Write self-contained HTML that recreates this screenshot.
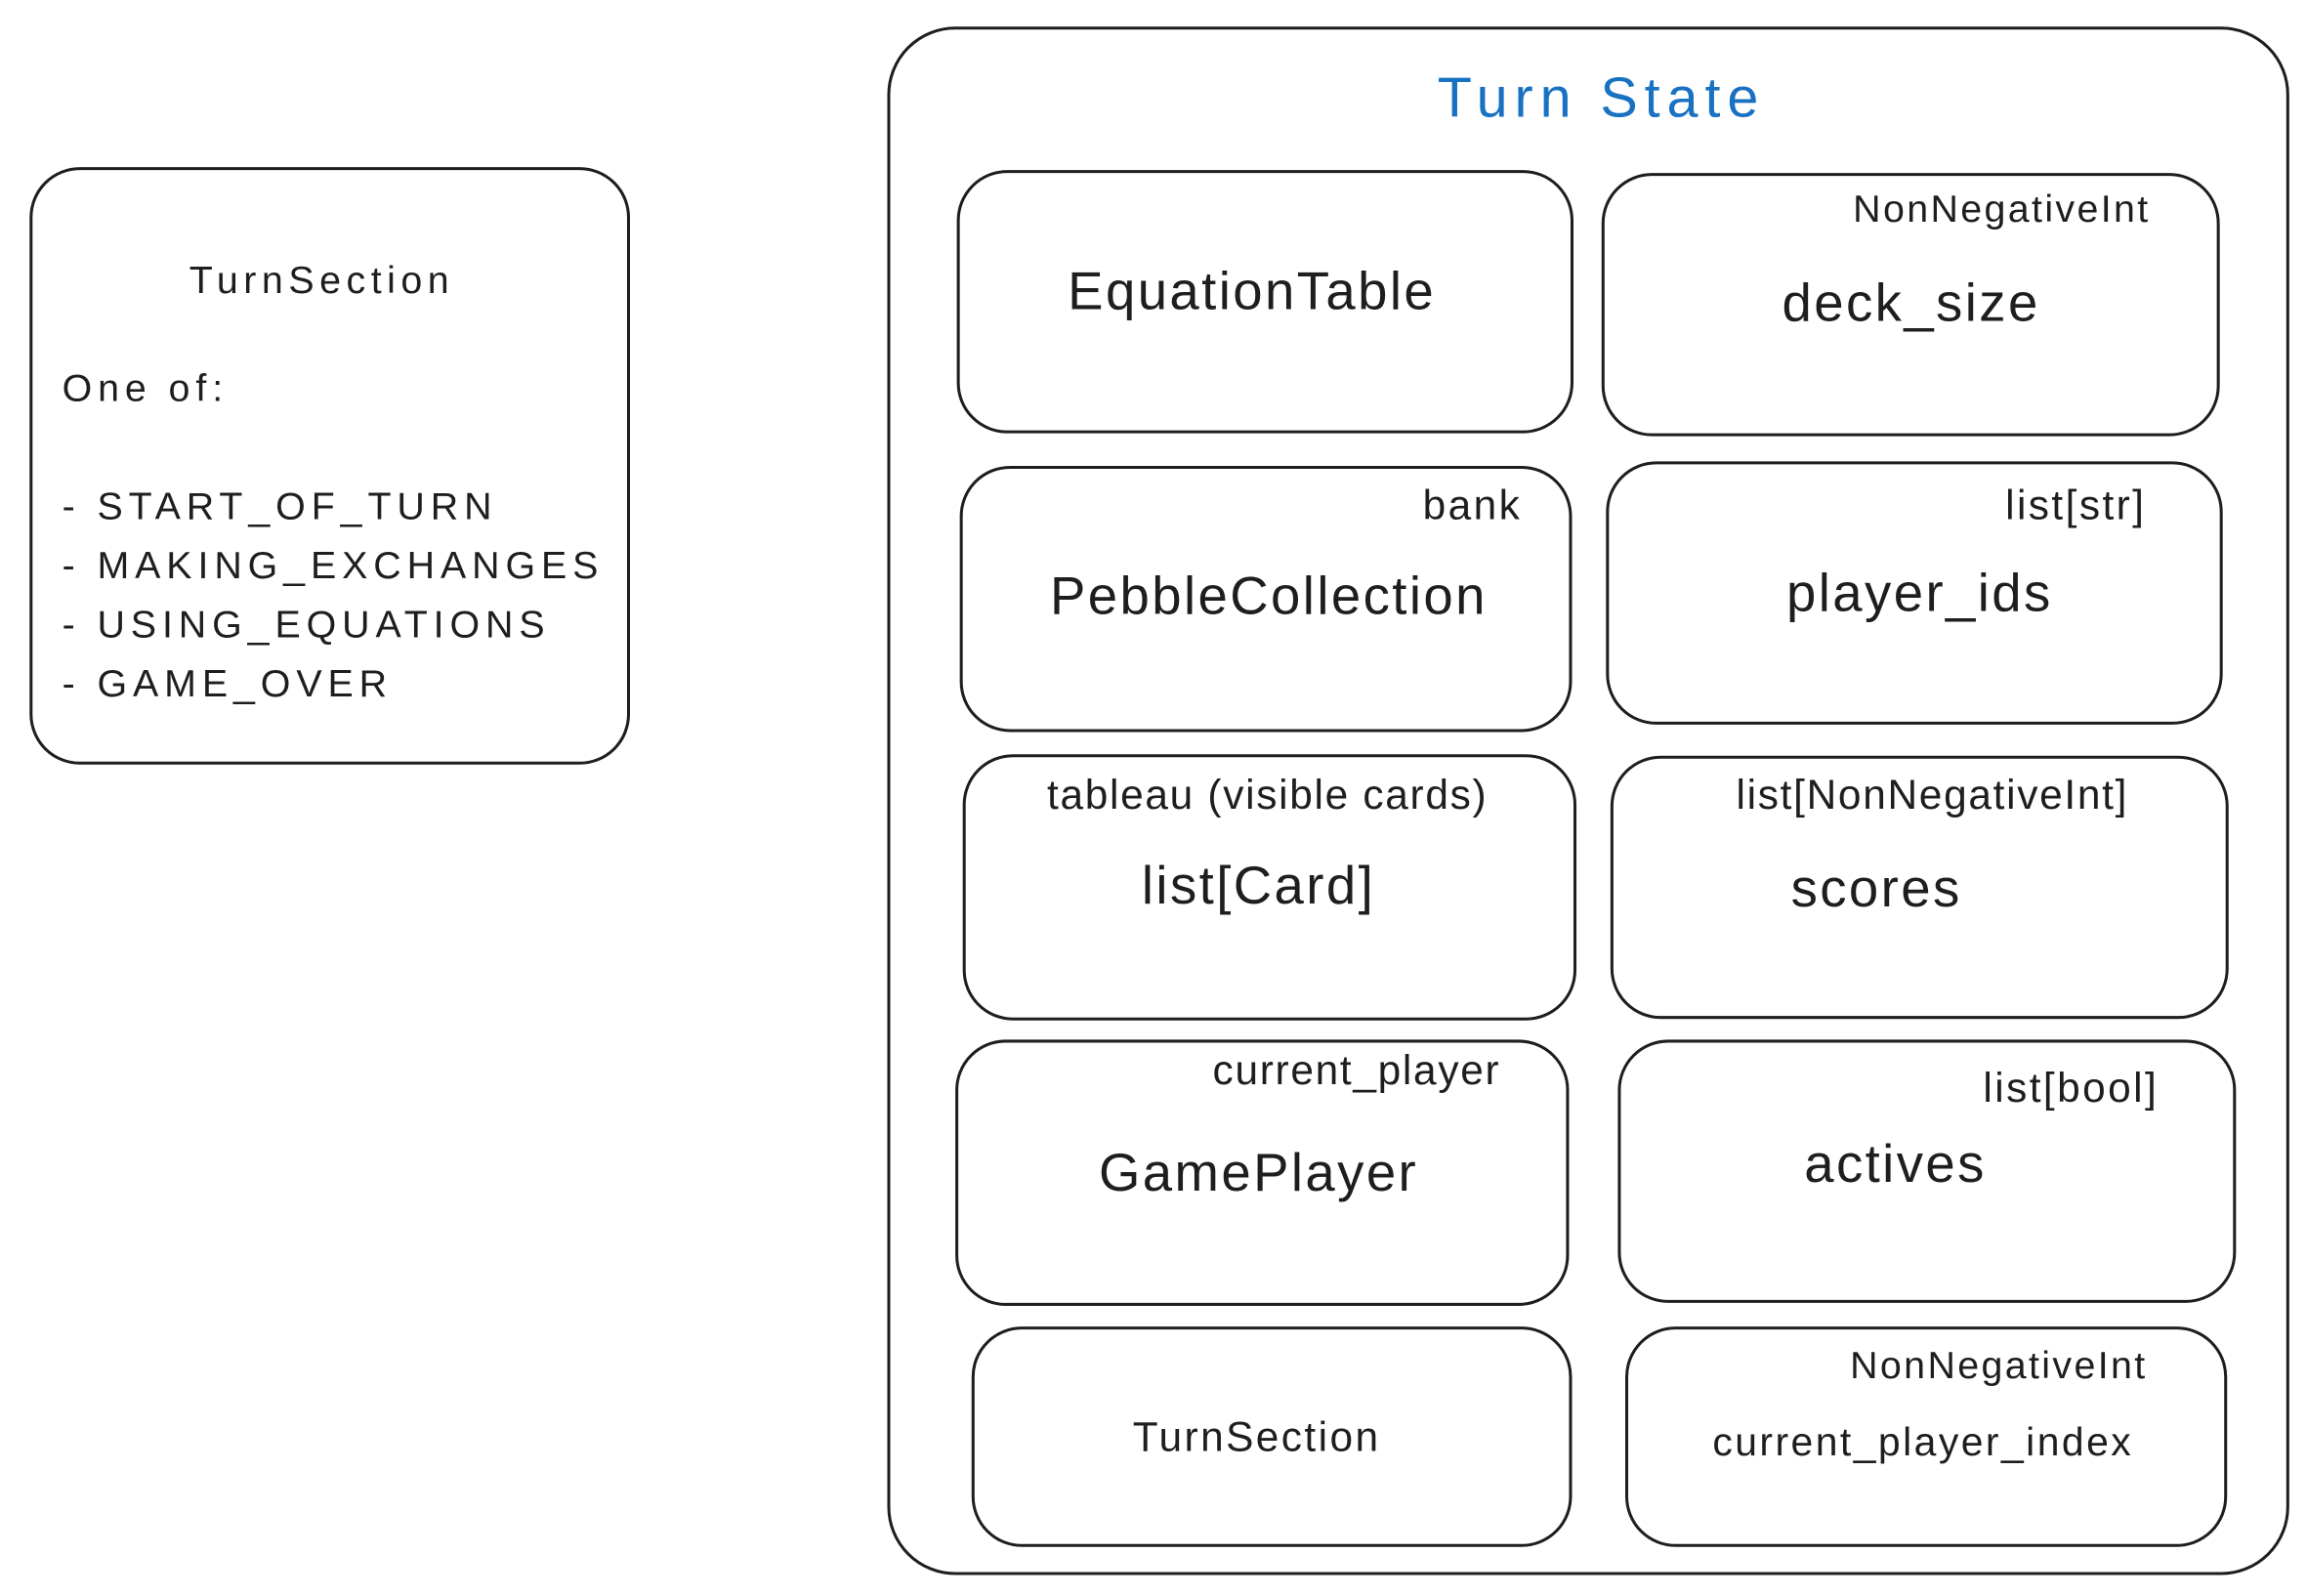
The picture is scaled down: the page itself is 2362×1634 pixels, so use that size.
<!DOCTYPE html>
<html><head><meta charset="utf-8">
<style>
html,body{margin:0;padding:0;background:#fff;}
body{width:2362px;height:1634px;overflow:hidden;position:relative;}
#w{position:absolute;left:0;top:0;width:1560px;height:1079px;transform:scale(1.5141);transform-origin:0 0;font-family:"Liberation Sans",sans-serif;color:#1e1e1e;letter-spacing:0.1em;}
.b{position:absolute;border:2px solid #1e1e1e;border-radius:34px;box-sizing:border-box;}
.t{position:absolute;white-space:nowrap;}
.m{font-size:36px;}
.s{font-size:28px;}
</style></head><body>
<div id="w">
<div class="b" style="left:20px;top:113px;width:406px;height:404px;"></div>
<div class="t" style="left:128px;top:174px;font-size:26px;letter-spacing:0.14em;">TurnSection</div>
<div class="t" style="left:42px;top:242px;font-size:26px;line-height:40px;letter-spacing:0.15em;">One of:<br><br>- START_OF_TURN<br>- MAKING_EXCHANGES<br>- USING_EQUATIONS<br>- GAME_OVER</div>

<div class="b" style="left:600px;top:18px;width:948px;height:1047px;border-radius:46px;"></div>
<div class="t" style="left:972px;top:46px;font-size:38px;color:#1971c2;letter-spacing:0.12em;">Turn State</div>

<div class="b" style="left:647px;top:115px;width:417px;height:178px;"></div>
<div class="t m" style="left:722px;top:176px;">EquationTable</div>
<div class="b" style="left:1083px;top:117px;width:418px;height:178px;"></div>
<div class="t s" style="left:1253px;top:126px;font-size:26px;letter-spacing:0.06em;">NonNegativeInt</div>
<div class="t m" style="left:1205px;top:184px;">deck_size</div>

<div class="b" style="left:649px;top:315px;width:414px;height:180px;"></div>
<div class="t s" style="left:962px;top:326px;">bank</div>
<div class="t m" style="left:710px;top:382px;">PebbleCollection</div>
<div class="b" style="left:1086px;top:312px;width:417px;height:178px;"></div>
<div class="t s" style="left:1356px;top:326px;">list[str]</div>
<div class="t m" style="left:1208px;top:380px;">player_ids</div>

<div class="b" style="left:651px;top:510px;width:415px;height:180px;"></div>
<div class="t s" style="left:708px;top:522px;letter-spacing:0.04em;">tableau (visible cards)</div>
<div class="t m" style="left:772px;top:578px;">list[Card]</div>
<div class="b" style="left:1089px;top:511px;width:418px;height:178px;"></div>
<div class="t s" style="left:1174px;top:522px;letter-spacing:0.04em;">list[NonNegativeInt]</div>
<div class="t m" style="left:1211px;top:580px;">scores</div>

<div class="b" style="left:646px;top:703px;width:415px;height:180px;"></div>
<div class="t s" style="left:820px;top:708px;letter-spacing:0.04em;">current_player</div>
<div class="t m" style="left:743px;top:772px;">GamePlayer</div>
<div class="b" style="left:1094px;top:703px;width:418px;height:178px;"></div>
<div class="t s" style="left:1341px;top:720px;">list[bool]</div>
<div class="t m" style="left:1220px;top:766px;">actives</div>

<div class="b" style="left:657px;top:897px;width:406px;height:149px;"></div>
<div class="t" style="left:766px;top:956px;font-size:28px;">TurnSection</div>
<div class="b" style="left:1099px;top:897px;width:407px;height:149px;"></div>
<div class="t" style="left:1251px;top:908px;font-size:26px;letter-spacing:0.06em;">NonNegativeInt</div>
<div class="t" style="left:1158px;top:960px;font-size:27px;letter-spacing:0.06em;">current_player_index</div>
</div>
</body></html>
